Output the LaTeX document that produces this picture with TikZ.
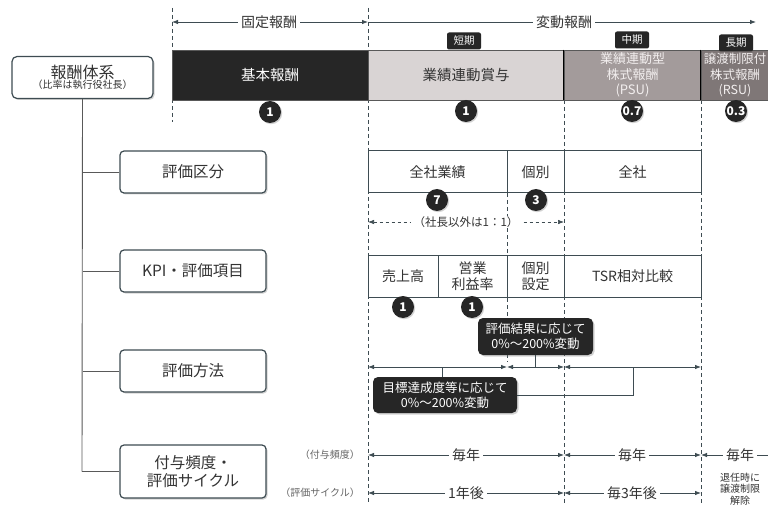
\documentclass[tikz,border=0pt]{standalone}
\usepackage{fontspec}
\setmainfont{Noto Sans CJK JP}
\usetikzlibrary{arrows.meta,shadows}
\definecolor{ink}{HTML}{333333}
\definecolor{edge}{HTML}{3E4C52}
\definecolor{dark}{HTML}{262626}
\definecolor{lightbar}{HTML}{D9D4D4}
\definecolor{midbar}{HTML}{A39B9B}
\definecolor{deepbar}{HTML}{7F7777}
\definecolor{pale}{HTML}{F2EEEE}
\tikzset{
  bar/.style={minimum height=50pt, inner sep=0pt, draw=gray!70!black, line width=0.6pt, align=center, font=\fontsize{14.5}{17}\selectfont},
  circ/.style={circle, fill=dark, text=white, minimum size=22pt, inner sep=0pt, font=\bfseries\fontsize{12}{12}\selectfont, drop shadow={opacity=0.35, shadow xshift=1.2pt, shadow yshift=-1.2pt}},
  tagbox/.style={fill=dark, text=white, rounded corners=2pt, minimum width=34pt, minimum height=17pt, inner sep=0pt, font=\fontsize{10.5}{11}\selectfont},
  catbox/.style={draw=edge, line width=1.2pt, rounded corners=4pt, fill=white, text=ink, align=center, inner sep=0pt, minimum width=146pt, minimum height=42pt, font=\fontsize{15.5}{18}\selectfont, drop shadow={opacity=0.35, shadow xshift=1.5pt, shadow yshift=-1.5pt}},
  cell/.style={draw=edge, line width=1pt, fill=white, minimum height=42pt, inner sep=0pt, text=ink, align=center, font=\fontsize{14}{16}\selectfont},
  callout/.style={fill=dark, text=white, rounded corners=5pt, align=center, inner sep=0pt, font=\fontsize{12.5}{15}\selectfont, drop shadow={opacity=0.35, shadow xshift=1.5pt, shadow yshift=-1.5pt}},
  guide/.style={dashed, draw=edge, line width=0.7pt, dash pattern=on 4pt off 3pt},
  dim/.style={{Latex[length=6pt,width=4.5pt]}-{Latex[length=6pt,width=4.5pt]}, draw=edge, line width=0.8pt},
  dimr/.style={-{Latex[length=6pt,width=4.5pt]}, draw=edge, line width=0.8pt},
  lab/.style={fill=white, text=ink, inner xsep=3pt, inner ysep=1pt, font=\fontsize{14}{16}\selectfont},
  side/.style={text=gray!80!black, inner sep=0pt, anchor=east, font=\fontsize{10}{12}\selectfont},
  trunk/.style={draw=gray!70!black, line width=0.9pt},
}
\begin{document}
\begin{tikzpicture}[x=1pt,y=-1pt]
\useasboundingbox (0,0) rectangle (768,505);
\clip (0,0) rectangle (768,505);
\fill[white] (0,0) rectangle (768,505);

% guide coordinates
\coordinate (g1t) at (172,8);   \coordinate (g1b) at (172,122);
\coordinate (g2t) at (368,8);   \coordinate (g2b) at (368,505);
\coordinate (g3t) at (564,100); \coordinate (g3b) at (564,505);
\coordinate (g4t) at (701,100); \coordinate (g4b) at (701,505);
\coordinate (g5t) at (507,193); \coordinate (g5b) at (507,362);
\draw[guide] (g1t) -- (g1b);
\draw[guide] (g2t) -- (g2b);
\draw[guide] (g3t) -- (g3b);
\draw[guide] (g4t) -- (g4b);
\draw[guide] (g5t) -- (g5b);

% top dimension arrows
\coordinate (ta) at (172,22); \coordinate (tb) at (368,22); \coordinate (tc) at (756,22);
\draw[dim] (ta) -- (tb);
\node[lab] (lfix) at (269,22) {固定報酬};
\draw[dimr] (tb) -- (tc);
\node[lab] (lvar) at (564,22) {変動報酬};

% bars
\node[bar, fill=dark, text=white, minimum width=196pt] (kihon) at (270,75) {基本報酬};
\node[bar, fill=lightbar, text=ink, minimum width=196pt] (shoyo) at (466,75) {業績連動賞与};
\node[bar, fill=midbar, text=pale, minimum width=137pt, font=\fontsize{13}{15.5}\selectfont] (psu) at (632.5,75) {業績連動型\\株式報酬\\(PSU)};
\node[bar, fill=deepbar, text=pale, minimum width=78pt, font=\fontsize{12.5}{15.5}\selectfont] (rsu) at (740,75) {};
\node[text=pale, align=center, inner sep=0pt, font=\fontsize{12.5}{15.5}\selectfont] (rsutext) at (735,75) {譲渡制限付\\株式報酬\\(RSU)};
\draw[draw=black, line width=1.2pt] (psu.north west) -- (psu.south west);
\draw[draw=black, line width=1.2pt] (rsu.north west) -- (rsu.south west);

% tags
\node[tagbox] (t1) at (464,41) {短期};
\node[tagbox] (t2) at (632,40) {中期};
\node[tagbox] (t3) at (736,43) {長期};

% ratio circles
\node[circ] (r1) at (270,112) {1};
\node[circ] (r2) at (466,111) {1};
\node[circ] (r3) at (632,111) {0.7};
\node[circ] (r4) at (736,111) {0.3};

% left tree
\node[draw=edge, line width=1.2pt, rounded corners=5pt, fill=white, text=ink, align=center, inner sep=0pt, minimum width=141pt, minimum height=42pt, drop shadow={opacity=0.35, shadow xshift=1.5pt, shadow yshift=-1.5pt}] (root) at (82.5,77.5)
  {{\fontsize{16}{18}\selectfont 報酬体系}\\[-2pt]{\fontsize{10}{12}\selectfont （比率は執行役社長）}};
\node[catbox] (c1) at (193,172) {評価区分};
\node[catbox] (c2) at (193,271) {KPI・評価項目};
\node[catbox] (c3) at (193,371) {評価方法};
\node[catbox, minimum height=53pt] (c4) at (193,471.5) {付与頻度・\\評価サイクル};
\coordinate (tend) at (82,471.5);
\draw[trunk] (root.south) -- (tend);
\draw[trunk] (c1.west) -- (c1.west -| root.south);
\draw[trunk] (c2.west) -- (c2.west -| root.south);
\draw[trunk] (c3.west) -- (c3.west -| root.south);
\draw[trunk] (c4.west) -- (tend);

% evaluation category row
\node[cell, minimum width=139pt] (e1) at (437.5,172) {全社業績};
\node[cell, minimum width=57pt] (e2) at (535.5,172) {個別};
\node[cell, minimum width=137pt] (e3) at (632.5,172) {全社};
\coordinate (da) at (368,222); \coordinate (db) at (564,222);
\draw[dim, dashed, line width=0.6pt] (da) -- (db);
\node[lab, font=\fontsize{11.5}{13}\selectfont] (lpres) at (466,222) {（社長以外は1：1）};
\node[circ] (w1) at (437,200) {7};
\node[circ] (w2) at (536,200) {3};

% KPI row
\node[cell, minimum width=70pt] (k1) at (403,276) {売上高};
\node[cell, minimum width=69pt] (k2) at (472.5,276) {営業\\利益率};
\node[cell, minimum width=57pt] (k3) at (535.5,276) {個別\\設定};
\node[cell, minimum width=137pt] (k4) at (632.5,276) {TSR相対比較};
\node[circ] (w3) at (403,307) {1};
\node[circ] (w4) at (472,307) {1};

% evaluation method row
\coordinate (m1) at (368,367); \coordinate (m2) at (507,367);
\coordinate (m3) at (564,367); \coordinate (m4) at (701,367);
\draw[dim] (m1) -- (m2);
\draw[dim] (m2) -- (m3);
\draw[dim] (m3) -- (m4);
\node[callout, minimum width=115pt, minimum height=37pt] (co1) at (535.5,336.5) {評価結果に応じて\\0\%～200\%変動};
\node[callout, minimum width=144pt, minimum height=36pt] (co2) at (445,395) {目標達成度等に応じて\\0\%～200\%変動};
\coordinate (j1) at (535,367);
\coordinate (j2) at (442,367);
\coordinate (j3) at (633,367);
\draw[trunk, draw=edge] (co1.south -| j1) -- (j1);
\draw[trunk, draw=edge] (j2) -- (co2.north -| j2);
\draw[trunk, draw=edge] (co2.east) -- (co2.east -| j3) -- (j3);

% frequency / cycle rows
\node[side] (s1) at (360,455) {（付与頻度）};
\node[side] (s2) at (360,493) {（評価サイクル）};
\coordinate (f1) at (368,455); \coordinate (f2) at (564,455);
\coordinate (f3) at (701,455); \coordinate (f4) at (790,455);
\draw[dim] (f1) -- (f2);
\draw[dim] (f2) -- (f3);
\draw[dim] (f3) -- (f4);
\node[lab] (q1) at (466,455) {毎年};
\node[lab] (q2) at (632,455) {毎年};
\node[lab] (q3) at (740,455) {毎年};
\coordinate (h1) at (368,493); \coordinate (h2) at (564,493); \coordinate (h3) at (701,493);
\draw[dim] (h1) -- (h2);
\draw[dim] (h2) -- (h3);
\node[lab] (p1) at (466,493) {1年後};
\node[lab] (p2) at (632,493) {毎3年後};
\node[text=ink, align=center, inner sep=0pt, font=\fontsize{10}{11.5}\selectfont] (p3) at (740,489) {退任時に\\譲渡制限\\解除};
\end{tikzpicture}
\end{document}
